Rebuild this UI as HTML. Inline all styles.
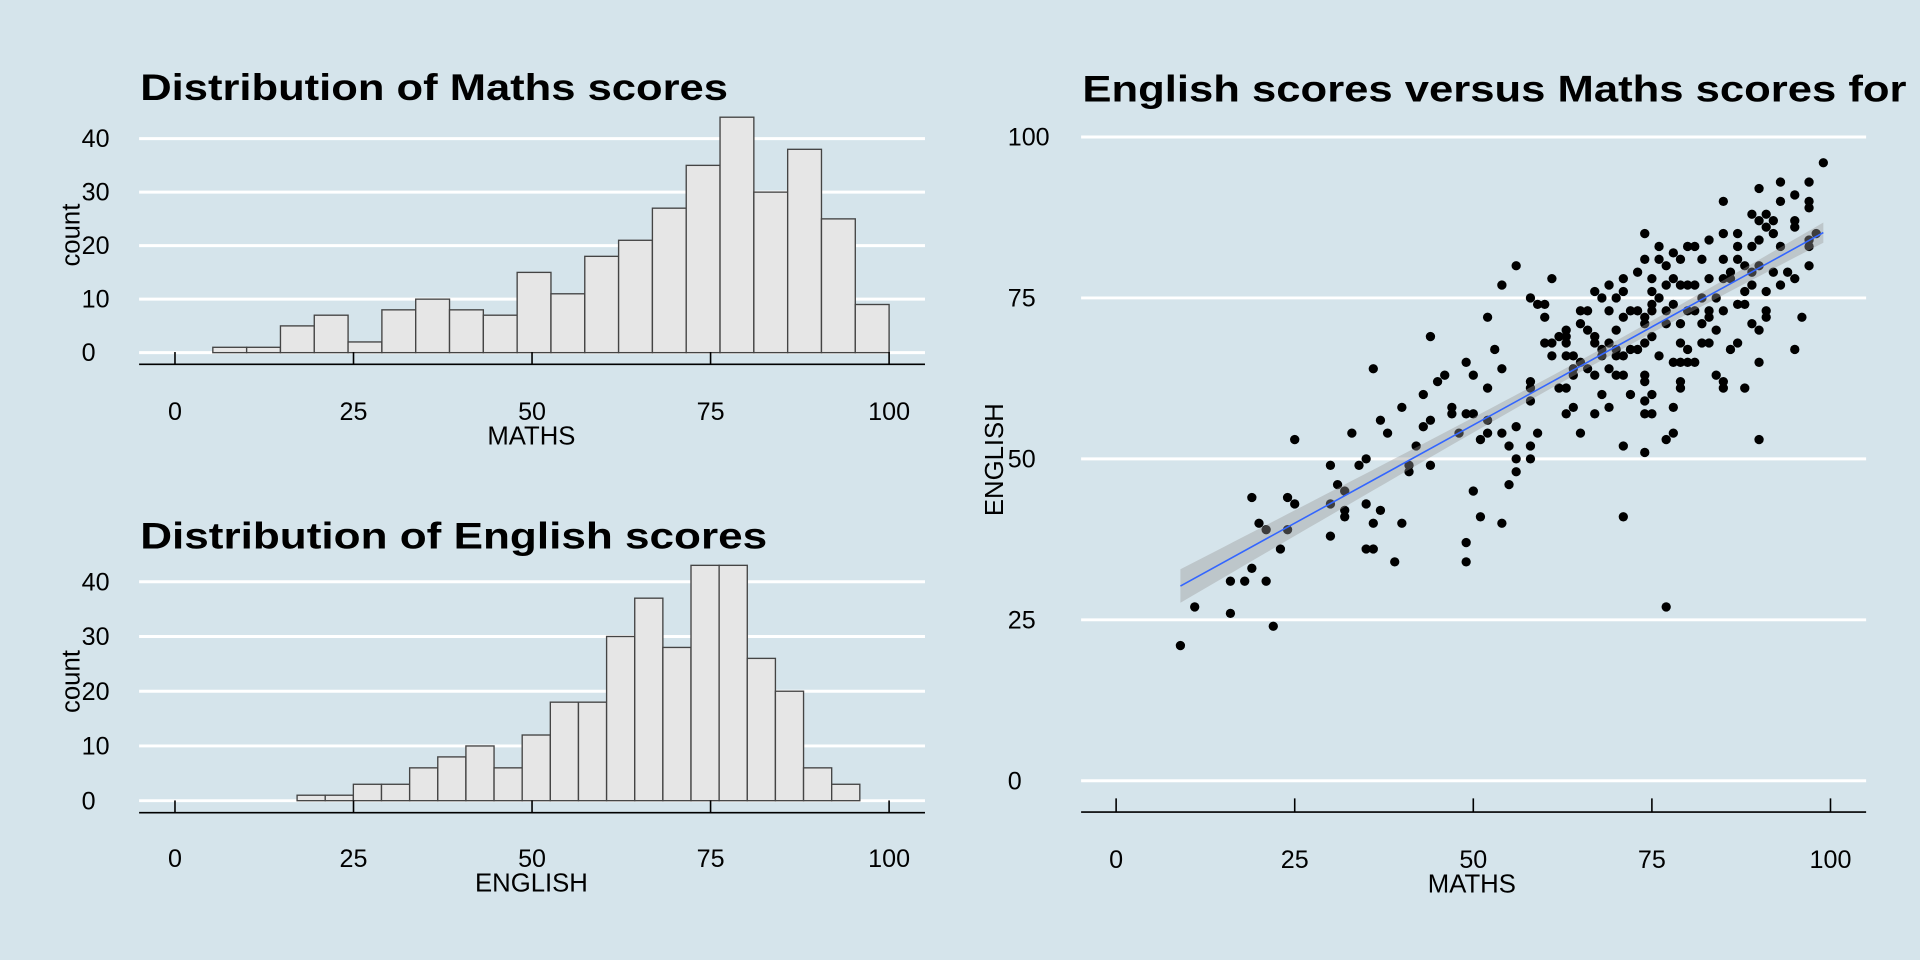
<!DOCTYPE html>
<html><head><meta charset="utf-8"><style>
html,body{margin:0;padding:0;background:#d5e4eb;}
svg{display:block;}
text{font-family:"Liberation Sans",sans-serif;fill:#000;}
</style></head><body>
<svg id="c" width="1920" height="960" viewBox="0 0 1568 784" xmlns="http://www.w3.org/2000/svg">
<rect x="0" y="0" width="1568" height="784" fill="#d5e4eb"/>
<g id="p1"></g>
<g id="p2"></g>
<g id="p3"></g>
</svg>
<script>
// ---- data ----
const mathsCounts = [1,1,5,7,2,8,10,8,7,15,11,18,21,27,35,44,30,38,25,9];
const mathsBinStart = 5.3;
const mathsBinWidth = 4.735;
const englishCounts = [1,1,3,3,6,8,10,6,12,18,18,30,37,28,43,43,26,20,6,3];
const englishBinStart = 17.1;
const englishBinWidth = 3.94;
const histXTicks = [0,25,50,75,100];
const histYTicks = [0,10,20,30,40];
const scatterXTicks = [0,25,50,75,100];
const scatterYTicks = [0,25,50,75,100];
const scatterMaths = [9,11,16,16,18,19,19,20,21,21,22,23,24,24,25,25,30,30,30,31,32,32,32,33,34,35,35,35,36,36,36,37,37,38,39,40,40,41,41,42,43,43,44,44,44,45,46,47,47,48,49,49,49,49,50,50,50,51,51,52,52,52,52,53,54,54,54,54,55,55,56,56,56,56,58,58,58,58,58,58,59,59,60,60,60,61,61,61,62,62,63,63,63,63,63,63,64,64,64,64,65,65,65,65,66,66,66,67,67,67,67,67,68,68,68,68,69,69,69,69,69,70,70,70,70,70,71,71,71,71,71,71,71,72,72,72,73,73,73,74,74,74,74,74,74,74,74,74,74,75,75,75,75,75,75,75,76,76,76,76,77,77,77,77,77,77,78,78,78,78,78,78,79,79,79,79,79,79,79,80,80,80,80,80,81,81,81,81,82,82,82,82,83,83,83,83,83,84,84,84,85,85,85,85,85,85,85,86,86,86,87,87,87,87,87,88,88,88,88,89,89,89,89,89,90,90,90,90,90,90,90,91,91,91,91,91,92,92,92,93,93,93,93,94,95,95,95,95,95,96,97,97,97,97,97,97,98,99];
const scatterEnglish = [21,27,31,26,31,44,33,40,39,31,24,36,44,39,43,53,49,43,38,46,45,42,41,54,49,50,43,36,64,40,36,56,42,54,34,58,40,49,48,52,60,55,69,56,49,62,63,58,57,54,65,57,37,34,63,57,45,53,41,72,61,56,54,67,77,64,54,40,52,46,80,55,50,48,62,61,59,52,50,75,54,74,74,72,68,78,68,66,69,61,70,69,68,66,61,57,64,66,63,58,73,71,65,54,73,70,64,76,69,68,63,57,75,67,66,60,77,73,68,64,58,75,70,67,66,63,78,76,72,66,63,52,41,73,67,60,79,73,67,85,81,72,71,68,63,62,59,57,51,78,76,74,73,69,60,57,83,81,75,66,80,77,73,71,53,27,82,78,74,65,58,54,81,77,71,68,65,62,61,83,77,73,67,65,83,77,73,65,81,75,71,68,78,73,72,68,84,75,70,63,90,85,81,78,73,62,61,78,67,79,85,83,81,74,68,74,76,80,61,88,83,79,77,71,92,87,84,80,70,65,53,88,86,76,73,72,87,85,79,93,90,83,77,79,91,87,86,78,67,72,93,90,89,84,83,80,85,96];
const fitIntercept = 24.76;
const fitSlope = 0.61;
const fitRange = [9, 99];
const seBase = 0.9, seCurv = 0.00171, fitMean = 68;

const NS = "http://www.w3.org/2000/svg";
function mk(parent, tag, attrs, txt){
  const e = document.createElementNS(NS, tag);
  for (const k in attrs) e.setAttribute(k, attrs[k]);
  if (txt !== undefined) e.textContent = txt;
  parent.appendChild(e);
  return e;
}

function histogram(g, cfg){
  const xs = v => 142.9 + v*5.832;
  const ys = v => cfg.y0 - v*cfg.py;
  histYTicks.forEach(t=>{
    const l = mk(g,'line',{x1:113.6,x2:755.4,y1:ys(t),y2:ys(t),stroke:'#fff','stroke-width':2.4});
    
    
    const tx = mk(g,'text',{x:66.7,y:ys(t)+7,'font-size':20.5},String(t));
    
    
  });
  cfg.counts.forEach((c,i)=>{
    const a = cfg.start + i*cfg.bw, b = a + cfg.bw;
    const r = mk(g,'rect',{x:xs(a),y:ys(c),width:xs(b)-xs(a),height:ys(0)-ys(c),fill:'#e6e6e6',stroke:'#444','stroke-width':1.1});
    
    
  });
  const ax = mk(g,'line',{x1:113.6,x2:755.4,y1:cfg.axisY,y2:cfg.axisY,stroke:'#000','stroke-width':1.3});
  
  
  histXTicks.forEach(t=>{
    const tk = mk(g,'line',{x1:xs(t),x2:xs(t),y1:cfg.axisY,y2:cfg.axisY-10,stroke:'#000','stroke-width':1.3});
    
    
    const tl = mk(g,'text',{x:xs(t),y:cfg.labY+7,'font-size':20.5,'text-anchor':'middle'},String(t));
    
    
  });
  const xt = mk(g,'text',{x:434,y:cfg.labY+27,'font-size':21,'text-anchor':'middle'},cfg.xtitle);
  
  
  const yt = mk(g,'text',{x:0,y:0,'font-size':21,'text-anchor':'middle',transform:`translate(65,${cfg.countY}) rotate(-90)`},'count');
  
  
  const ti = mk(g,'text',{x:114.5,y:cfg.titleY,'font-size':30,'font-weight':'bold',textLength:cfg.titleLen,lengthAdjust:'spacingAndGlyphs'},cfg.title);
  
  
}

histogram(document.getElementById('p1'),{counts:mathsCounts,start:mathsBinStart,bw:mathsBinWidth,y0:288,py:4.37,axisY:297.5,labY:336,countY:192,titleY:81.6,title:'Distribution of Maths scores',titleLen:480,xtitle:'MATHS'});
histogram(document.getElementById('p2'),{counts:englishCounts,start:englishBinStart,bw:englishBinWidth,y0:653.9,py:4.47,axisY:663.7,labY:700.9,countY:556.6,titleY:447.8,title:'Distribution of English scores',titleLen:512,xtitle:'ENGLISH'});

// scatter
(function(){
  const g = document.getElementById('p3');
  const xs = v => 911.5 + v*5.834;
  const ys = v => 637.6 - v*5.257;
  scatterYTicks.forEach(t=>{
    const l = mk(g,'line',{x1:882.9,x2:1524,y1:ys(t),y2:ys(t),stroke:'#fff','stroke-width':2.4});
    
    
    const tx = mk(g,'text',{x:823,y:ys(t)+7,'font-size':20.5},String(t));
    
    
  });
  scatterMaths.forEach((m,i)=>{
    const c = mk(g,'circle',{cx:xs(m),cy:ys(scatterEnglish[i]),r:3.8,fill:'#000'});
    
    
  });
  const up=[], lo=[];
  for(let k=0;k<=60;k++){
    const x = fitRange[0] + (fitRange[1]-fitRange[0])*k/60;
    const yv = fitIntercept + fitSlope*x;
    const h = Math.sqrt(seBase*seBase + seCurv*(x-fitMean)*(x-fitMean));
    up.push(xs(x)+','+ys(yv+h)); lo.unshift(xs(x)+','+ys(yv-h));
  }
  const rib = mk(g,'polygon',{points:up.concat(lo).join(' '),fill:'rgba(153,153,153,0.4)'});
  
  
  const fl = mk(g,'line',{x1:xs(fitRange[0]),y1:ys(fitIntercept+fitSlope*fitRange[0]),x2:xs(fitRange[1]),y2:ys(fitIntercept+fitSlope*fitRange[1]),stroke:'#3366ff','stroke-width':1.3});
  
  
  const ax = mk(g,'line',{x1:882.9,x2:1524,y1:663.2,y2:663.2,stroke:'#000','stroke-width':1.3});
  
  
  scatterXTicks.forEach(t=>{
    const tk = mk(g,'line',{x1:xs(t),x2:xs(t),y1:663.2,y2:652,stroke:'#000','stroke-width':1.3});
    
    
    const tl = mk(g,'text',{x:xs(t),y:708.7,'font-size':20.5,'text-anchor':'middle'},String(t));
    
    
  });
  const xt = mk(g,'text',{x:1202,y:729,'font-size':21,'text-anchor':'middle'},'MATHS');
  
  
  const yt = mk(g,'text',{x:0,y:0,'font-size':21,'text-anchor':'middle',transform:'translate(819,375.4) rotate(-90)'},'ENGLISH');
  
  
  const ti = mk(g,'text',{x:884,y:83,'font-size':30,'font-weight':'bold',textLength:673,lengthAdjust:'spacingAndGlyphs'},'English scores versus Maths scores for');
  
  
})();
</script>
</body></html>
